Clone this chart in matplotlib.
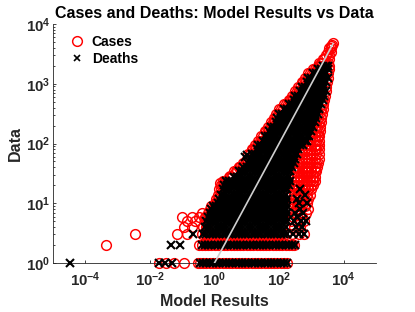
import matplotlib
matplotlib.use("Agg")
import matplotlib.pyplot as plt
from matplotlib.ticker import FixedLocator, FixedFormatter, LogLocator, NullFormatter, NullLocator
from matplotlib.lines import Line2D

# ---------------- data ----------------
# Deaths: observed value levels and the model results found at each level
death_levels = [1, 2, 3, 4, 5, 6, 7, 8, 9, 10, 12, 14, 17, 20, 24, 28, 34, 40, 48, 56,
                68, 80, 95, 112, 135, 160, 190, 225, 270, 316, 380, 450, 540, 630, 760,
                890, 1070, 1260, 1510, 1780, 2000]
death_model_rows = [
    [0.35, 0.45, 0.56, 0.71, 0.89, 1.12, 1.41, 1.78, 2.24, 2.82, 3.55, 4.47, 5.62, 7.08, 8.91, 11.2, 14.1, 17.8, 22.4, 28.2, 35.5, 44.7, 56.2, 70.8, 89.1, 112, 141, 178],
    [0.40, 0.50, 0.63, 0.79, 1.0, 1.26, 1.6, 2.0, 2.5, 3.2, 4.0, 5.0, 6.3, 7.9, 10, 12.6, 16, 20, 25, 32, 40, 50, 63, 79, 100, 126, 158, 200, 251, 300],
    [0.45, 0.56, 0.71, 0.89, 1.12, 1.41, 1.78, 2.24, 2.82, 3.55, 4.47, 5.62, 7.08, 8.91, 11.2, 14.1, 17.8, 22.4, 28.2, 35.5, 44.7, 56.2, 70.8, 89.1, 112, 141, 178, 260, 420, 600],
    [0.50, 0.63, 0.79, 1.0, 1.26, 1.6, 2.0, 2.5, 3.2, 4.0, 5.0, 6.3, 7.9, 10, 12.6, 16, 20, 25, 32, 40, 50, 63, 79, 100, 126, 158, 330, 520],
    [0.56, 0.71, 0.89, 1.12, 1.41, 1.78, 2.24, 2.82, 3.55, 4.47, 5.62, 7.08, 8.91, 11.2, 14.1, 17.8, 22.4, 28.2, 35.5, 44.7, 56.2, 70.8, 89.1, 112, 141, 178, 290, 480, 680],
    [0.63, 0.79, 1.0, 1.26, 1.6, 2.0, 2.5, 3.2, 4.0, 5.0, 6.3, 7.9, 10, 12.6, 16, 20, 25, 32, 40, 50, 63, 79, 100, 126, 158, 360],
    [0.71, 0.89, 1.12, 1.41, 1.78, 2.24, 2.82, 3.55, 4.47, 5.62, 7.08, 8.91, 11.2, 14.1, 17.8, 22.4, 28.2, 35.5, 44.7, 56.2, 70.8, 89.1, 112, 141, 178, 300, 560],
    [0.79, 1.0, 1.26, 1.6, 2.0, 2.5, 3.2, 4.0, 5.0, 6.3, 7.9, 10, 12.6, 16, 20, 25, 32, 40, 50, 63, 79, 100, 126, 158, 430],
    [0.89, 1.12, 1.41, 1.78, 2.24, 2.82, 3.55, 4.47, 5.62, 7.08, 8.91, 11.2, 14.1, 17.8, 22.4, 28.2, 35.5, 44.7, 56.2, 70.8, 89.1, 112, 141, 178],
    [1.26, 1.6, 2.0, 2.5, 3.2, 4.0, 5.0, 6.3, 7.9, 10, 12.6, 16, 20, 25, 32, 40, 50, 63, 79, 100, 126, 158, 400, 710],
    [1.41, 1.78, 2.24, 2.82, 3.55, 4.47, 5.62, 7.08, 8.91, 11.2, 14.1, 17.8, 22.4, 28.2, 35.5, 44.7, 56.2, 70.8, 89.1, 112, 141, 178, 355],
    [1.6, 2.0, 2.5, 3.2, 4.0, 5.0, 6.3, 7.9, 10, 12.6, 16, 20, 25, 32, 40, 50, 63, 79, 100, 126, 158, 630],
    [1.78, 2.24, 2.82, 3.55, 4.47, 5.62, 7.08, 8.91, 11.2, 14.1, 17.8, 22.4, 28.2, 35.5, 44.7, 56.2, 70.8, 89.1, 112, 141, 178, 450],
    [2.0, 2.5, 3.2, 4.0, 5.0, 6.3, 7.9, 10, 12.6, 16, 20, 25, 32, 40, 50, 63, 79, 100, 126, 158, 200],
    [2.24, 2.82, 3.55, 4.47, 5.62, 7.08, 8.91, 11.2, 14.1, 17.8, 22.4, 28.2, 35.5, 44.7, 56.2, 70.8, 89.1, 112, 141, 178, 224],
    [4.0, 5.0, 6.3, 7.9, 10, 12.6, 16, 20, 25, 32, 40, 50, 63, 79, 100, 126, 158, 200],
    [5.62, 7.08, 8.91, 11.2, 14.1, 17.8, 22.4, 28.2, 35.5, 44.7, 56.2, 70.8, 89.1, 112, 141, 178, 224],
    [7.9, 10, 12.6, 16, 20, 25, 32, 40, 50, 63, 79, 100, 126, 158, 200, 251],
    [11.2, 14.1, 17.8, 22.4, 28.2, 35.5, 44.7, 56.2, 70.8, 89.1, 112, 141, 178, 224, 282],
    [12.6, 16, 20, 25, 32, 40, 50, 63, 79, 100, 126, 158, 200, 251, 316],
    [14.1, 17.8, 22.4, 28.2, 35.5, 44.7, 56.2, 70.8, 89.1, 112, 141, 178, 224, 282, 355],
    [20, 25, 32, 40, 50, 63, 79, 100, 126, 158, 200, 251, 316, 398],
    [22.4, 28.2, 35.5, 44.7, 56.2, 70.8, 89.1, 112, 141, 178, 224, 282, 355, 447, 562],
    [32, 40, 50, 63, 79, 100, 126, 158, 200, 251, 316, 398, 501, 631, 740],
    [35.5, 44.7, 56.2, 70.8, 89.1, 112, 141, 178, 224, 282, 355, 447, 562, 708, 850],
    [50, 63, 79, 100, 126, 158, 200, 251, 316, 398, 501, 631, 794, 950],
    [56.2, 70.8, 89.1, 112, 141, 178, 224, 282, 355, 447, 562, 708, 891, 1122],
    [79, 100, 126, 158, 200, 251, 316, 398, 501, 631, 794, 1000, 1259],
    [89.1, 112, 141, 178, 224, 282, 355, 447, 562, 708, 891, 1122, 1413],
    [100, 126, 158, 200, 251, 316, 398, 501, 631, 794, 1000, 1259, 1585],
    [141, 178, 224, 282, 355, 447, 562, 708, 891, 1122, 1413, 1778],
    [200, 251, 316, 398, 501, 631, 794, 1000, 1259, 1585, 1995],
    [282, 355, 447, 562, 708, 891, 1122, 1413, 1778, 2239],
    [316, 398, 501, 631, 794, 1000, 1259, 1585, 1995, 2512],
    [447, 562, 708, 891, 1122, 1413, 1778, 2239, 2818],
    [501, 631, 794, 1000, 1259, 1585, 1995, 2512],
    [708, 891, 1122, 1413, 1778, 2239, 2818],
    [794, 1000, 1259, 1585, 1995, 2512, 3162],
    [1122, 1413, 1778, 2239, 2818],
    [1585, 1995, 2512, 3162],
    [2239, 2818, 3200],
]
death_extra_model = [3.4e-5, 0.019, 0.030, 0.048, 0.046, 0.085, 0.22, 9.0, 10.5]
death_extra_data = [1, 1, 1, 1, 2, 2, 3, 59, 63]

# Cases: observed value levels and the model results found at each level
case_levels = [1, 2, 3, 4, 5, 6, 7, 8, 9, 10, 12, 14, 17, 20, 24, 28, 34, 40, 48, 56,
               68, 80, 95, 112, 135, 160, 190, 225, 270, 316, 380, 450, 540, 630, 760,
               890, 1070, 1260, 1510, 1780, 2000, 2240, 2600, 3000, 3400, 3900, 4300, 4500, 4900]
case_model_rows = [
    [0.30, 0.36, 0.45, 0.56, 0.71, 0.89, 1.12, 1.41, 1.78, 2.24, 2.82, 3.55, 4.47, 5.62, 7.08, 8.91, 11.2, 14.1, 17.8, 22.4, 28.2, 35.5, 44.7, 56.2, 70.8, 89.1, 112, 141, 180],
    [0.33, 0.40, 0.50, 0.63, 0.79, 1.0, 1.26, 1.6, 2.0, 2.5, 3.2, 4.0, 5.0, 6.3, 7.9, 10, 12.6, 16, 20, 25, 32, 40, 50, 63, 79, 100, 126, 158, 200, 251, 290],
    [0.40, 0.50, 0.63, 0.79, 1.0, 1.26, 1.6, 2.0, 2.5, 3.2, 4.0, 5.0, 6.3, 7.9, 10, 12.6, 16, 20, 25, 32, 40, 50, 63, 79, 100, 126, 158, 250, 400, 575],
    [0.45, 0.56, 280, 450],
    [0.50, 0.63, 230, 360, 600],
    [0.56, 0.71, 260, 500],
    [0.63, 0.79, 320, 700],
    [0.71, 0.89, 240, 450, 800],
    [0.79, 1.0, 350, 650],
    [1.0, 1.15, 224, 282, 355, 447, 562, 708],
    [1.12, 1.29, 251, 316, 398, 501, 631, 794],
    [1.26, 1.45, 224, 282, 355, 447, 562, 708, 891],
    [1.41, 1.62, 251, 316, 398, 501, 631, 794, 1000],
    [1.6, 1.82, 251, 316, 398, 501, 631, 794, 1000, 1122],
    [1.78, 2.04, 2.2, 282, 355, 447, 562, 708, 891, 1122, 1259],
    [2.8, 3.2, 3.6, 282, 355, 447, 562, 708, 891, 1122, 1259],
    [4.0, 4.5, 5.1, 316, 398, 501, 631, 794, 1000, 1259, 1413],
    [5.6, 6.3, 7.2, 316, 398, 501, 631, 794, 1000, 1259, 1500],
    [7.9, 8.9, 10.2, 355, 447, 562, 708, 891, 1122, 1413, 1585],
    [10, 11.5, 398, 501, 631, 794, 1000, 1259, 1660],
    [11.2, 12.9, 447, 562, 708, 891, 1122, 1413, 1660],
    [14.1, 15.8, 18.2, 501, 631, 794, 1000, 1259, 1413, 1700],
    [17.8, 20.4, 631, 794, 1000, 1259, 1500, 1700],
    [22.4, 25.1, 28.8, 891, 1122, 1413, 1778],
    [28.2, 32.4, 1000, 1259, 1585, 1778],
    [35.5, 39.8, 45.7, 1122, 1413, 1585, 1860],
    [44.7, 51.3, 1259, 1500, 1900],
    [56.2, 63, 72, 1413, 1700, 1995],
    [70.8, 81.3, 1600, 1995],
    [79.4, 91.2, 1778, 2090],
    [100, 112, 129, 1995, 2240],
    [141, 158, 182, 2240, 2340],
    [200, 224, 257, 2510],
    [251, 288, 2700],
    [316, 355, 407, 2900],
    [398, 457, 2900],
    [501, 562, 646, 3020],
    [631, 724, 3300],
    [794, 891, 1023, 3310],
    [1122, 1259, 1445, 3550],
    [1585, 1778, 2042, 3550],
    [1778, 2000, 3162],
    [2240, 2512, 3548],
    [2818, 3548],
    [3162, 3981],
    [3548, 4169],
    [3981],
    [4467],
    [4570],
]
case_extra_model = [4.4e-4, 3.5e-3, 0.019, 0.032, 0.054, 0.11, 0.069, 0.14, 0.11, 0.2,
                    0.14, 0.25, 0.098, 0.2, 0.32, 0.41, 0.58, 0.6, 0.5, 1.5, 2.1, 3.1, 5.6]
case_extra_data = [2, 3, 1, 1, 1, 1, 3, 3, 4, 4, 5, 5, 6, 6, 6, 7, 5, 4, 6, 22, 24, 29, 40]

# reference line (model = data)
ref_line = [1, 4700]

title_text = "Cases and Deaths: Model Results vs Data"
x_label = "Model Results"
y_label = "Data"
x_ticks = [1e-4, 1e-2, 1e0, 1e2, 1e4]
x_tick_labels = [r"$10^{-4}$", r"$10^{-2}$", r"$10^{0}$", r"$10^{2}$", r"$10^{4}$"]
y_ticks = [1e0, 1e1, 1e2, 1e3, 1e4]
y_tick_labels = [r"$10^{0}$", r"$10^{1}$", r"$10^{2}$", r"$10^{3}$", r"$10^{4}$"]

# ---------------- flatten tables ----------------
case_x = [m for row in case_model_rows for m in row] + case_extra_model
case_y = [lvl for lvl, row in zip(case_levels, case_model_rows) for _ in row] + case_extra_data
death_x = [m for row in death_model_rows for m in row] + death_extra_model
death_y = [lvl for lvl, row in zip(death_levels, death_model_rows) for _ in row] + death_extra_data

# ---------------- style ----------------
plt.rcParams["font.family"] = ["Liberation Sans", "DejaVu Sans"]
plt.rcParams["font.weight"] = "bold"
plt.rcParams["mathtext.fontset"] = "custom"
plt.rcParams["mathtext.rm"] = "Liberation Sans:bold"
plt.rcParams["mathtext.it"] = "Liberation Sans:bold"
plt.rcParams["mathtext.bf"] = "Liberation Sans:bold"
plt.rcParams["mathtext.default"] = "rm"

dark = "#262626"
fig = plt.figure(figsize=(4.15, 3.12), dpi=100)
ax = fig.add_axes([53 / 415, 1 - 263 / 312, (376 - 53) / 415, (263 - 24) / 312])

ax.set_xscale("log")
ax.set_yscale("log")

circ_ms, circ_mew = 7.0, 1.05
x_ms, x_mew = 6.2, 1.5

ax.plot(case_x, case_y, linestyle="none", marker="o", markersize=circ_ms,
        markerfacecolor="none", markeredgecolor="#ff0000", markeredgewidth=circ_mew,
        clip_on=False, zorder=2)
ax.plot(death_x, death_y, linestyle="none", marker="x", markersize=x_ms,
        color="black", markeredgewidth=x_mew, clip_on=False, zorder=3)
ax.plot(ref_line, ref_line, color="#cfcfcf", linewidth=1.2, zorder=4)

ax.set_xlim(1e-5, 1e5)
ax.set_ylim(1, 1e4)

ax.xaxis.set_major_locator(FixedLocator(x_ticks))
ax.xaxis.set_major_formatter(FixedFormatter(x_tick_labels))
ax.xaxis.set_minor_locator(NullLocator())
ax.yaxis.set_major_locator(FixedLocator(y_ticks))
ax.yaxis.set_major_formatter(FixedFormatter(y_tick_labels))
ax.yaxis.set_minor_locator(LogLocator(base=10, subs=[2, 3, 4, 5, 6, 7, 8, 9]))
ax.yaxis.set_minor_formatter(NullFormatter())

for s in ["top", "right"]:
    ax.spines[s].set_visible(False)
for s in ["left", "bottom"]:
    ax.spines[s].set_color(dark)
    ax.spines[s].set_linewidth(0.6)

ax.tick_params(which="both", direction="in", color=dark, width=0.6, labelcolor=dark,
               labelsize=10.8)
ax.tick_params(which="major", length=2.4)
ax.tick_params(which="minor", length=1.4)
ax.tick_params(axis="x", pad=5)
ax.tick_params(axis="y", pad=2)

ax.set_title(title_text, fontsize=11.5, fontweight="bold", color="black", pad=4)
ax.set_xlabel(x_label, fontsize=11.5, fontweight="bold", color=dark, labelpad=4)
ax.set_ylabel(y_label, fontsize=11.5, fontweight="bold", color=dark, labelpad=2)

handles = [
    Line2D([], [], linestyle="none", marker="o", markersize=circ_ms, markerfacecolor="none",
           markeredgecolor="#ff0000", markeredgewidth=circ_mew),
    Line2D([], [], linestyle="none", marker="x", markersize=5.0, color="black",
           markeredgewidth=1.2),
]
ax.legend(handles, ["Cases", "Deaths"], loc="upper left", bbox_to_anchor=(0.053, 0.955),
          frameon=False, fontsize=10, handlelength=1.0, handletextpad=0.55,
          labelspacing=0.2, borderpad=0, borderaxespad=0)

fig.savefig("out.png", dpi=100)
